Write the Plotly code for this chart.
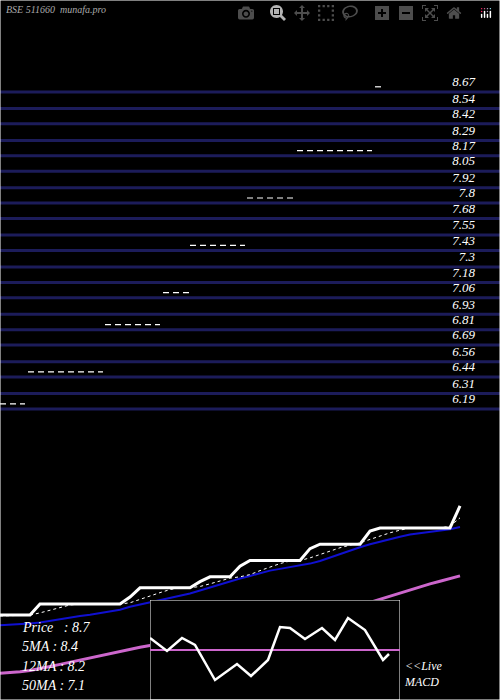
import plotly.graph_objects as go

title = "BSE 511660  munafa.pro"
levels = [8.67,8.54,8.42,8.29,8.17,8.05,7.92,7.8,7.68,7.55,7.43,7.3,7.18,7.06,6.93,6.81,6.69,6.56,6.44,6.31,6.19]
# price bands: (level, x start, x end) in day index units
band_levels = [6.19, 6.44, 6.81, 7.06, 7.43, 7.8, 8.17, 8.67]
band_x0 = [0.0, 2.8, 10.5, 16.3, 19.0, 24.7, 29.7, 37.5]
band_x1 = [2.5, 10.3, 16.0, 19.0, 24.5, 29.3, 37.2, 38.2]

days = list(range(47))
price = [6.19]*4 + [6.44]*9 + [6.6] + [6.81]*6 + [6.95] + [7.06]*3 + [7.3] + [7.43]*6 + [7.7] + [7.8]*5 + [8.1] + [8.17]*8 + [8.67]
ma5 = [6.17,6.18,6.19,6.19,6.24,6.3,6.36,6.42,6.44,6.44,6.44,6.44,6.44,6.47,6.55,6.63,6.7,6.77,6.81,6.81,6.84,6.9,6.96,7.03,7.06,7.11,7.2,7.28,7.36,7.42,7.43,7.49,7.57,7.64,7.72,7.78,7.83,7.91,7.99,8.06,8.12,8.17,8.17,8.17,8.17,8.21,8.4]
ma12 = [5.96,5.97,5.99,6.0,6.02,6.06,6.1,6.13,6.17,6.2,6.24,6.28,6.31,6.38,6.43,6.48,6.53,6.58,6.63,6.68,6.75,6.82,6.89,6.96,7.02,7.08,7.14,7.2,7.24,7.28,7.32,7.36,7.42,7.5,7.58,7.66,7.73,7.8,7.86,7.92,7.97,8.02,8.05,8.07,8.1,8.14,8.19]
ma50 = [4.87,4.88,4.9,4.93,4.97,5.02,5.07,5.12,5.17,5.22,5.27,5.32,5.37,5.42,5.46,5.5,5.54,5.58,5.62,5.66,5.7,5.74,5.78,5.82,5.86,5.9,5.94,5.98,6.02,6.06,6.1,6.14,6.18,6.22,6.28,6.34,6.4,6.48,6.55,6.62,6.7,6.77,6.84,6.9,6.96,7.02,7.08]
macd_x = [0,1.7,3.2,4.5,6.5,8.7,10.1,11.8,13,14,15.5,17.2,18.5,19.8,21.5,23.3,23.9]
macd_y = [1.2,-0.1,1.2,0.5,-3,-1.4,-2.6,-1,2.3,2.2,1.1,2.2,1,3.2,2,-1,-0.4]
legend = ["Price   : 8.7", "5MA : 8.4", "12MA : 8.2", "50MA : 7.1"]

FONT = "Liberation Serif"
fig = go.Figure()

for lv in levels:
    fig.add_trace(go.Scatter(x=[0, 50], y=[lv-0.07, lv-0.07], mode="lines",
                             line=dict(color="#1c1c5a", width=3), xaxis="x", yaxis="y", hoverinfo="skip"))
for lv, a, b in zip(band_levels, band_x0, band_x1):
    fig.add_trace(go.Scatter(x=[a, b], y=[lv-0.03, lv-0.03], mode="lines",
                             line=dict(color="white", width=1.2, dash="6px,4px"), xaxis="x", yaxis="y", hoverinfo="skip"))
fig.add_trace(go.Scatter(x=[47.5]*len(levels), y=levels, mode="text", text=["<i>%s</i>" % v for v in levels],
                         textposition="middle left", textfont=dict(family=FONT, size=13, color="white"),
                         xaxis="x", yaxis="y", hoverinfo="skip"))

fig.add_trace(go.Scatter(x=days, y=ma50, mode="lines", line=dict(color="#cc66cc", width=3), xaxis="x", yaxis="y2"))
fig.add_trace(go.Scatter(x=days, y=ma12, mode="lines", line=dict(color="#1010d0", width=2), xaxis="x", yaxis="y2"))
fig.add_trace(go.Scatter(x=days, y=ma5, mode="lines", line=dict(color="white", width=1, dash="dot"), xaxis="x", yaxis="y2"))
fig.add_trace(go.Scatter(x=days, y=price, mode="lines", line=dict(color="white", width=3), xaxis="x", yaxis="y2"))

fig.add_trace(go.Scatter(x=[0, 25, 25, 0, 0], y=[-5, -5, 5, 5, -5], fill="toself", fillcolor="black",
                         mode="lines", line=dict(color="white", width=1), xaxis="x2", yaxis="y3", hoverinfo="skip"))
fig.add_trace(go.Scatter(x=[0, 25], y=[0, 0], mode="lines", line=dict(color="#cc66cc", width=2), xaxis="x2", yaxis="y3"))
fig.add_trace(go.Scatter(x=macd_x, y=macd_y, mode="lines", line=dict(color="white", width=2.5), xaxis="x2", yaxis="y3"))

ann = [dict(text="<i>%s</i>" % title, x=4/500, y=1-9/700, xref="paper", yref="paper", xanchor="left", yanchor="middle",
            showarrow=False, font=dict(family=FONT, size=10, color="#aaaaaa"))]
for i, t in enumerate(legend):
    ann.append(dict(text="<i>%s</i>" % t, x=20/500, y=1-(627+19.5*i)/700, xref="paper", yref="paper",
                    xanchor="left", yanchor="middle", showarrow=False, font=dict(family=FONT, size=14, color="white")))
ann.append(dict(text="<i>&lt;&lt;Live<br>MACD</i>", x=402/500, y=1-674/700, xref="paper", yref="paper",
                xanchor="left", yanchor="middle", align="left", showarrow=False,
                font=dict(family=FONT, size=12, color="white")))

fig.update_layout(
    width=500, height=700, margin=dict(l=0, r=0, t=0, b=0),
    paper_bgcolor="black", plot_bgcolor="black", showlegend=False,
    xaxis=dict(range=[0, 50], domain=[0, 1], visible=False),
    yaxis=dict(range=[5.564, 9.319], domain=[220/700, 1], visible=False),
    yaxis2=dict(range=[4.26, 9.26], domain=[0, 220/700], visible=False),
    xaxis2=dict(range=[0, 25], domain=[150/500, 400/500], visible=False, anchor="y3"),
    yaxis3=dict(range=[-5, 5], domain=[0, 100/700], visible=False, anchor="x2"),
    annotations=ann,
    shapes=[dict(type="rect", xref="paper", yref="paper", x0=0, x1=1, y0=0, y1=1,
                 line=dict(color="white", width=1))],
)
fig.write_html("out.html", post_script="document.body.style.margin='0';document.body.style.background='black';")
